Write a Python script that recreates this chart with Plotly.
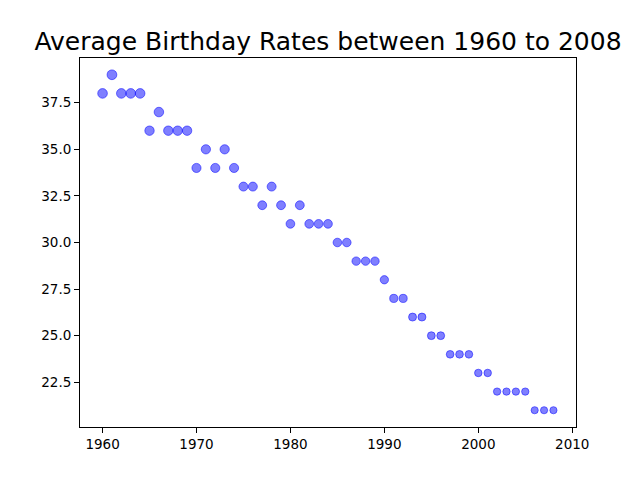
import math
import plotly.graph_objects as go

years = list(range(1960, 2009))
rates = [
    38, 39, 38, 38, 38, 36, 37, 36, 36, 36,
    34, 35, 34, 35, 34, 33, 33, 32, 33, 32,
    31, 32, 31, 31, 31, 30, 30, 29, 29, 29,
    28, 27, 27, 26, 26, 25, 25, 24, 24, 24,
    23, 23, 22, 22, 22, 22, 21, 21, 21,
]
y_ticks = [22.5, 25.0, 27.5, 30.0, 32.5, 35.0, 37.5]
x_ticks = [1960, 1970, 1980, 1990, 2000, 2010]

# marker area follows the value (like matplotlib s=value), converted to px diameter
sizes = [math.sqrt(4 * v / math.pi) * 100 / 72 for v in rates]

fig = go.Figure()
fig.add_trace(
    go.Scatter(
        x=years,
        y=rates,
        mode="markers",
        marker=dict(
            size=sizes,
            color="rgba(0,0,255,0.5)",
            opacity=1,  # array sizes would otherwise default to 0.7
            line=dict(color="rgba(0,0,255,0.5)", width=1),
        ),
        showlegend=False,
    )
)

axis_common = dict(
    showgrid=False,
    zeroline=False,
    showline=True,
    linecolor="black",
    linewidth=1,
    mirror=True,
    ticks="outside",
    ticklen=5,
    tickwidth=1,
    tickcolor="black",
    tickfont=dict(family="DejaVu Sans", size=13.5, color="black"),
)

fig.update_xaxes(
    range=[1957.6, 2010.4],
    tickvals=x_ticks,
    ticktext=[str(t) for t in x_ticks],
    **axis_common,
)
fig.update_yaxes(
    range=[20.1, 39.9],
    tickvals=y_ticks,
    ticktext=[f"{t:.1f}" for t in y_ticks],
    **axis_common,
)

# the page body adds an 8px offset, so the figure is 8px smaller on each side
fig.update_layout(
    width=632,
    height=472,
    margin=dict(l=72, r=64, t=50, b=53, pad=0),
    paper_bgcolor="white",
    plot_bgcolor="white",
    title=dict(
        text="Average Birthday Rates between 1960 to 2008",
        x=320 / 632,
        xanchor="center",
        y=1 - 33 / 472,
        yanchor="middle",
        font=dict(family="DejaVu Sans", size=25, color="black"),
    ),
)

fig.write_html("out.html", config={"displayModeBar": False})
